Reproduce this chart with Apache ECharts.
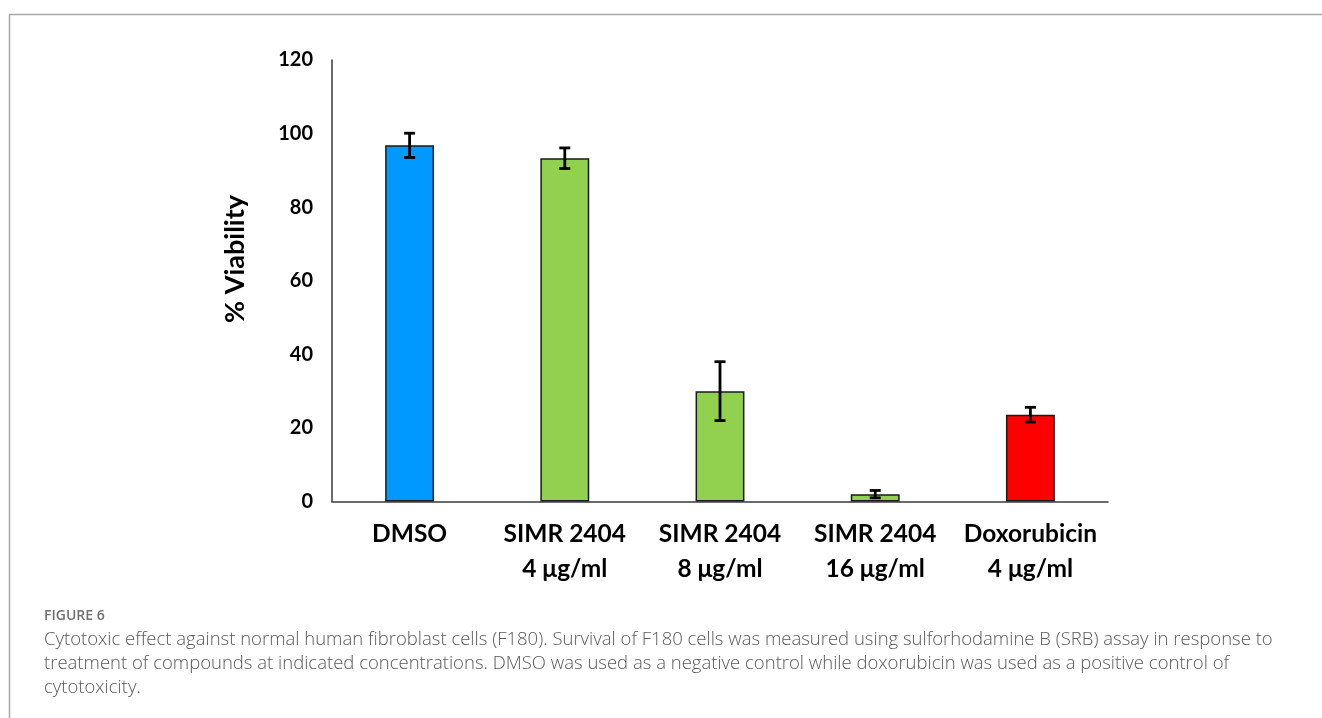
<!DOCTYPE html>
<html>
<head>
<meta charset="utf-8">
<script src="https://cdn.jsdelivr.net/npm/echarts@6/dist/echarts.min.js"></script>
<style>
  html, body { margin: 0; padding: 0; background: #fff; }
  #chart { width: 1322px; height: 718px; }
</style>
</head>
<body>
<div id="chart"></div>
<script>
// Treatment groups along the x axis
const categories = ['DMSO', 'SIMR 2404\n4 μg/ml', 'SIMR 2404\n8 μg/ml', 'SIMR 2404\n16 μg/ml', 'Doxorubicin\n4 μg/ml'];
// Mean viability (%) and standard deviation per group
const viability = [96.8, 93.3, 30.0, 2.0, 23.6];
const errors = [3.3, 2.8, 8.0, 1.0, 2.0];
// Bar fill per group
const barColors = ['#0099ff', '#92d050', '#92d050', '#92d050', '#ff0000'];
// Y axis ticks
const yTicks = [0, 20, 40, 60, 80, 100, 120];
const yAxisTitle = '% Viability';

const captionTitle = 'FIGURE 6';
const captionLines = [
  'Cytotoxic effect against normal human fibroblast cells (F180). Survival of F180 cells was measured using sulforhodamine B (SRB) assay in response to',
  'treatment of compounds at indicated concentrations. DMSO was used as a negative control while doxorubicin was used as a positive control of',
  'cytotoxicity.'
];

const chart = echarts.init(document.getElementById('chart'), null, { renderer: 'canvas' });

const labelFont = 'Lato, "Open Sans", "DejaVu Sans", sans-serif';
const captionFont = '"Open Sans", Lato, sans-serif';

chart.setOption({
  animation: false,
  backgroundColor: '#fff',
  grid: { left: 332, right: 214, top: 60, bottom: 216.5, containLabel: false },
  xAxis: {
    type: 'category',
    data: categories,
    axisLine: { show: true, lineStyle: { color: '#3a3a3a', width: 1.5 } },
    axisTick: { show: false },
    axisLabel: {
      color: '#000', fontFamily: labelFont, fontWeight: 'bold', fontSize: 24.5,
      lineHeight: 35, margin: 15, interval: 0
    }
  },
  yAxis: {
    type: 'value',
    min: yTicks[0],
    max: yTicks[yTicks.length - 1],
    interval: yTicks[1] - yTicks[0],
    axisLine: { show: true, lineStyle: { color: '#3a3a3a', width: 1.5 } },
    axisTick: { show: false },
    splitLine: { show: false },
    axisLabel: { color: '#000', fontFamily: labelFont, fontWeight: 'bold', fontSize: 20, margin: 19 }
  },
  series: [
    {
      type: 'bar',
      barWidth: '31.5%',
      data: viability.map((v, i) => ({
        value: v,
        itemStyle: { color: barColors[i], borderColor: '#1a1a1a', borderWidth: 1.5 }
      })),
      z: 2
    },
    {
      type: 'custom',
      z: 5,
      data: viability.map((v, i) => [i, v - errors[i], v + errors[i]]),
      renderItem: function (params, api) {
        const lo = api.coord([api.value(0), api.value(1)]);
        const hi = api.coord([api.value(0), api.value(2)]);
        const half = 5.5;
        const style = { stroke: '#000', lineWidth: 2.8 };
        return {
          type: 'group',
          children: [
            { type: 'line', shape: { x1: hi[0], y1: hi[1], x2: lo[0], y2: lo[1] }, style },
            { type: 'line', shape: { x1: hi[0] - half, y1: hi[1], x2: hi[0] + half, y2: hi[1] }, style },
            { type: 'line', shape: { x1: lo[0] - half, y1: lo[1], x2: lo[0] + half, y2: lo[1] }, style }
          ]
        };
      }
    }
  ],
  graphic: [
    // figure frame
    { type: 'polyline', shape: { points: [[9.5, 718], [9.5, 14.5], [1322, 14.5]] },
      style: { stroke: '#a8a8a8', lineWidth: 1.5, fill: null } },
    // rotated y axis title
    { type: 'text', x: 235, y: 259, rotation: Math.PI / 2,
      style: { text: yAxisTitle, fill: '#000', align: 'center', verticalAlign: 'middle',
               font: 'bold 27px ' + labelFont } },
    { type: 'text', x: 44, y: 616,
      style: { text: captionTitle, fill: '#707070', verticalAlign: 'middle',
               font: '600 14px ' + captionFont } },
    ...captionLines.map((t, i) => ({
      type: 'text', x: 44, y: 640 + i * 24,
      style: { text: t, fill: '#595959', verticalAlign: 'middle',
               font: '300 18.5px ' + captionFont }
    }))
  ]
});
</script>
</body>
</html>
